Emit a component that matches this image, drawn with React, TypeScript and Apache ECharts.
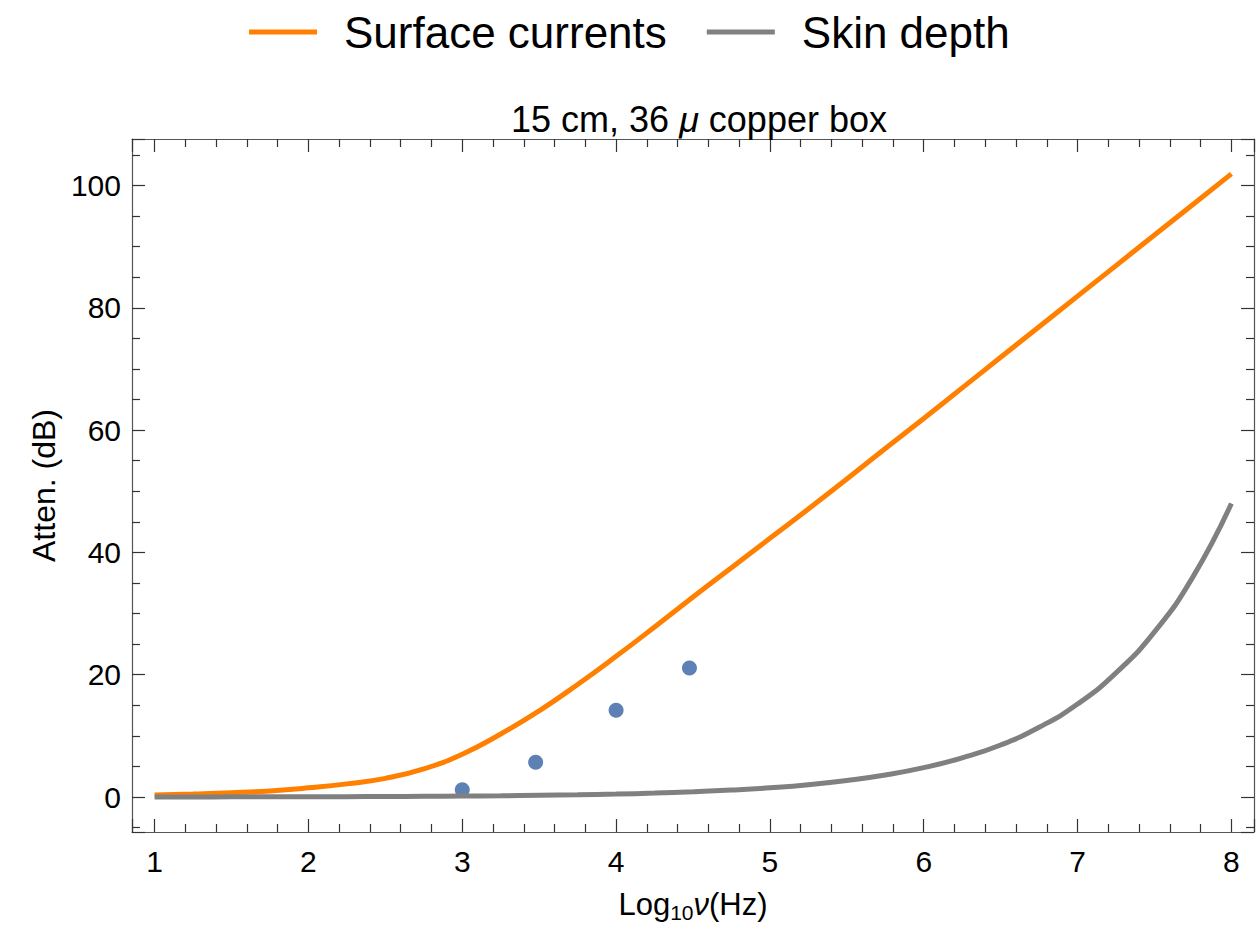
import React, { useEffect, useRef } from "react";
import * as echarts from "echarts";

const xValues = [1, 1.25, 1.5, 1.75, 2, 2.25, 2.5, 2.75, 3, 3.25, 3.5, 3.75, 4, 4.25, 4.5, 4.75, 5, 5.25, 5.5, 5.75, 6, 6.25, 6.5, 6.75, 7, 7.25, 7.5, 7.75, 8];
const surfaceCurrents = [0.35, 0.5, 0.7, 1.0, 1.5, 2.15, 3.05, 4.6, 7.0, 10.3, 14.1, 18.4, 23.0, 27.8, 32.7, 37.5, 42.3, 47.1, 52.0, 57.0, 61.9, 66.9, 71.9, 76.9, 81.9, 86.9, 91.9, 96.9, 101.9];
const skinDepth = [0.0, 0.01, 0.03, 0.04, 0.05, 0.06, 0.08, 0.11, 0.15, 0.2, 0.27, 0.36, 0.48, 0.64, 0.85, 1.13, 1.5, 2.0, 2.7, 3.6, 4.8, 6.4, 8.5, 11.4, 15.2, 20.3, 27.0, 36.0, 48.0];
const measuredX = [3, 3.477, 4, 4.477];
const measuredY = [1.2, 5.7, 14.2, 21.1];

const FONT = "'Liberation Sans', Arial, sans-serif";
const X_MIN = 0.853;
const X_MAX = 8.147;
const Y_MIN = -5.72;
const Y_MAX = 107.6;

export default function App() {
  const ref = useRef<HTMLDivElement>(null);
  useEffect(() => {
    if (!ref.current) return;
    const chart = echarts.init(ref.current, null, { renderer: "svg" });
    const frame = { show: true, onZero: false, lineStyle: { color: "#555", width: 1.2 } };
    const tick = { show: true, inside: true, length: 13, lineStyle: { color: "#333", width: 1.2 } };
    const xFmt = (v: number) => (Math.abs(v - Math.round(v)) < 1e-6 ? String(Math.round(v)) : "");
    const yFmt = (v: number) => (Math.abs(v / 20 - Math.round(v / 20)) < 1e-6 ? String(Math.round(v)) : "");
    const xBase = {
      type: "value",
      min: X_MIN,
      max: X_MAX,
      minInterval: 1,
      maxInterval: 1,
      splitNumber: 7,
      splitLine: { show: false },
      axisLine: frame,
      axisTick: tick,
      minorTick: { show: true, splitNumber: 5, length: 8, lineStyle: { color: "#333", width: 1.2 } },
    };
    const yBase = {
      type: "value",
      min: Y_MIN,
      max: Y_MAX,
      minInterval: 20,
      maxInterval: 20,
      splitNumber: 6,
      splitLine: { show: false },
      axisLine: frame,
      axisTick: tick,
      minorTick: { show: true, splitNumber: 4, length: 8, lineStyle: { color: "#333", width: 1.2 } },
    };
    chart.setOption({
      animation: false,
      backgroundColor: "#fff",
      title: {
        text: "{a|15 cm, 36 }{i|μ}{a| copper box}",
        left: 694,
        textAlign: "center",
        top: 96,
        textStyle: {
          fontWeight: "normal",
          rich: {
            a: { fontFamily: FONT, fontSize: 36, color: "#000", fontWeight: "normal" },
            i: { fontFamily: FONT, fontSize: 36, color: "#000", fontStyle: "italic", fontWeight: "normal" },
          },
        },
      },
      legend: {
        data: ["Surface currents", "Skin depth"],
        top: 5,
        left: 244,
        icon: "rect",
        itemWidth: 68,
        itemHeight: 5,
        itemGap: 40,
        textStyle: { fontFamily: FONT, fontSize: 44, color: "#000", padding: [0, 0, 0, 22] },
      },
      grid: { left: 132, right: 3, top: 139, bottom: 109 },
      xAxis: [
        {
          ...xBase,
          position: "bottom",
          name: "{a|Log}{s|10}{i|ν}{a|(Hz)}",
          nameLocation: "middle",
          nameGap: 54,
          nameTextStyle: {
            rich: {
              a: { fontFamily: FONT, fontSize: 31, color: "#000" },
              s: { fontFamily: FONT, fontSize: 21, color: "#000", verticalAlign: "bottom", padding: [16, 0, 0, 0] },
              i: { fontFamily: FONT, fontSize: 31, color: "#000", fontStyle: "italic" },
            },
          },
          axisLabel: { show: true, formatter: xFmt, fontFamily: FONT, fontSize: 30, color: "#000", margin: 14, showMinLabel: false, showMaxLabel: false },
        },
        {
          ...xBase,
          position: "top",
          axisLabel: { show: false },
        },
      ],
      yAxis: [
        {
          ...yBase,
          position: "left",
          name: "Atten. (dB)",
          nameLocation: "middle",
          nameGap: 67,
          nameRotate: 90,
          nameTextStyle: { fontFamily: FONT, fontSize: 32, color: "#000" },
          axisLabel: { show: true, formatter: yFmt, fontFamily: FONT, fontSize: 30, color: "#000", margin: 11, showMinLabel: false, showMaxLabel: false },
        },
        {
          ...yBase,
          position: "right",
          axisLabel: { show: false },
        },
      ],
      series: [
        {
          name: "Surface currents",
          type: "line",
          smooth: true,
          showSymbol: false,
          symbol: "none",
          color: "#ff8000",
          lineStyle: { color: "#ff8000", width: 5 },
          data: xValues.map((x, i) => [x, surfaceCurrents[i]]),
        },
        {
          name: "Skin depth",
          type: "line",
          smooth: true,
          showSymbol: false,
          symbol: "none",
          color: "#808080",
          lineStyle: { color: "#808080", width: 5 },
          data: xValues.map((x, i) => [x, skinDepth[i]]),
        },
        {
          name: "Measured",
          type: "scatter",
          symbolSize: 15,
          itemStyle: { color: "#5e81b5", opacity: 1 },
          data: measuredX.map((x, i) => [x, measuredY[i]]),
        },
      ],
    });
    return () => chart.dispose();
  }, []);
  return <div ref={ref} style={{ position: "fixed", left: 0, top: 0, width: 1257, height: 941 }} />;
}
